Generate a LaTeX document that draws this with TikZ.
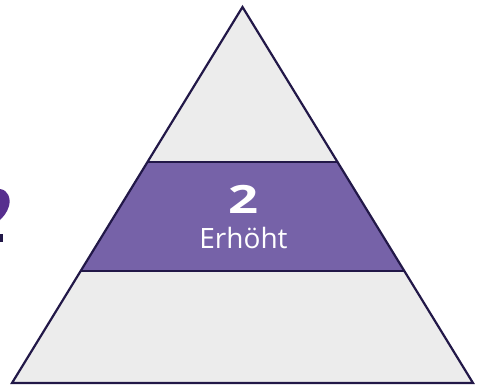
\documentclass[tikz,border=0pt]{standalone}
\usepackage{fontspec}
\setsansfont{Open Sans}
\usetikzlibrary{calc}
\definecolor{bandpurple}{RGB}{118,98,168}
\definecolor{edgenavy}{RGB}{34,24,72}
\definecolor{layergray}{RGB}{236,236,236}
\definecolor{markpurple}{RGB}{86,46,142}

\begin{document}
\begin{tikzpicture}[x=1pt, y=-1pt, font=\sffamily]

  \useasboundingbox (0,0) rectangle (478,386);

  \tikzset{
    levellabel/.style={text=white, inner sep=0pt, anchor=base},
    edge/.style={edgenavy, line width=2.2pt}
  }

  % corners of the pyramid
  \coordinate (apex) at (242.5,7);
  \coordinate (bl)   at (12,383);
  \coordinate (br)   at (473,383);

  % middle level: y from 162 to 271
  \coordinate (tl) at ($(apex)!0.412!(bl)$);
  \coordinate (tr) at ($(apex)!0.412!(br)$);
  \coordinate (ul) at ($(apex)!0.702!(bl)$);
  \coordinate (ur) at ($(apex)!0.702!(br)$);

  \fill[layergray] (apex) -- (bl) -- (br) -- cycle;
  \fill[bandpurple] (tl) -- (tr) -- (ur) -- (ul) -- cycle;
  \draw[edge] (tl) -- (tr);
  \draw[edge] (ul) -- (ur);
  \draw[edge] (apex) -- (bl) -- (br) -- cycle;

  % level label
  \node[levellabel, font=\sffamily\bfseries\fontsize{39}{39}\selectfont,
        xscale=1.35] (num) at (243.5,213) {2};
  \node[levellabel, font=\sffamily\fontsize{28}{28}\selectfont]
    (name) at (243.5,248) {Erhöht};

  % cut-off glyph at the left margin
  \fill[markpurple] (0,189) .. controls (8,190) and (11,198) .. (9,206)
    .. controls (7,213) and (3,217) .. (0,220) -- cycle;
  \fill[edgenavy] (0,234) rectangle (3,242);

\end{tikzpicture}
\end{document}
